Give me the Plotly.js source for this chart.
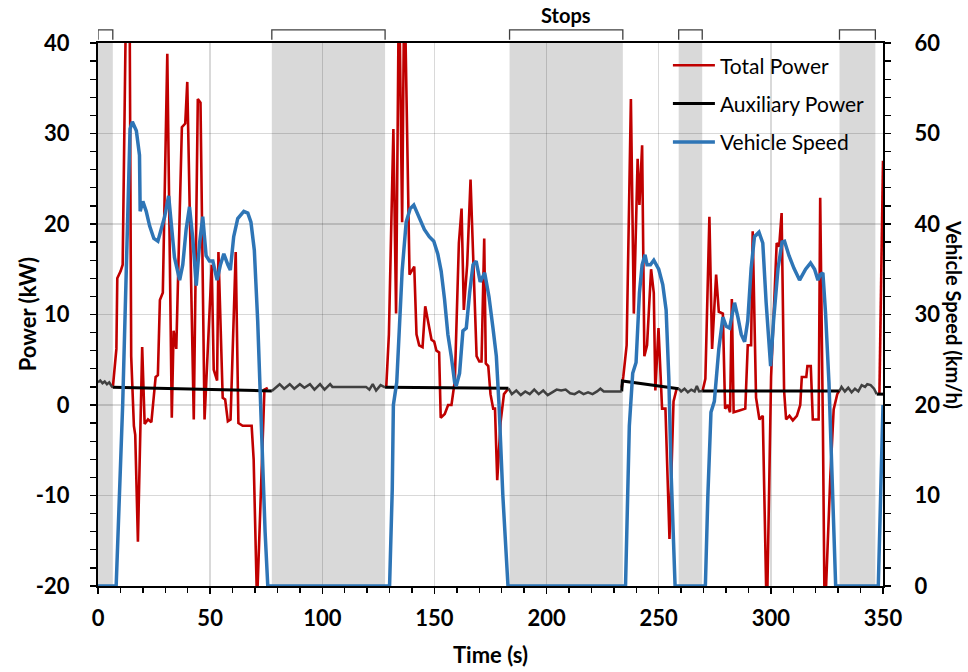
<!DOCTYPE html>
<html>
<head>
<meta charset="utf-8">
<script src="https://cdn.plot.ly/plotly-3.0.1.min.js"></script>
<style>html,body{margin:0;padding:0;background:#fff;}#chart{width:968px;height:672px;}</style>
</head>
<body>
<div id="chart"></div>
<script>
// ---- Total power (kW) ----
var tPower = [6.6, 8.2, 8.6, 10.1, 11.0, 12.5, 14.0, 14.8, 16.0, 16.6, 17.8, 19.7, 20.8, 22.3, 23.8, 25.7, 26.7, 27.6, 28.9, 30.9, 32.9, 33.7, 34.9, 37.4, 38.9, 39.8, 42.7, 44.5, 45.7, 47.5, 50.7, 51.6, 53.1, 53.7, 55.6, 56.7, 57.9, 59.1, 61.4, 62.6, 64.5, 68.5, 69.4, 70.9, 74.2, 75.7,
  null,
  128.5, 129.7, 131.7, 132.9, 134.2, 135.6, 136.6, 138.9, 141.0, 142.0, 143.2, 144.7, 145.9, 147.2, 148.7, 149.9, 150.9, 152.1, 152.8, 154.6, 156.1, 157.6, 159.1, 160.9, 162.1, 163.1, 164.6, 166.1, 167.3, 168.8, 170.0, 171.0, 172.2, 172.9, 174.0, 175.0, 176.2, 177.0, 178.0, 179.5, 181.0, 182.9,
  null,
  233.5, 234.2, 235.7, 237.6, 238.9, 240.6, 241.4, 242.6, 243.6, 244.8, 246.6, 247.8, 248.5, 249.9, 251.5, 253.0, 254.8, 256.6, 258.1,
  null,
  269.6, 270.8, 272.6, 273.8, 275.6, 276.8, 278.6, 279.6, 280.8, 281.8, 282.6, 283.4, 286.0, 288.6, 289.7, 291.2, 291.9, 293.4, 294.9, 296.4, 298.2, 300.1, 302.6, 303.7, 304.8, 305.9, 306.8, 308.3, 309.8, 311.6, 313.1, 313.8, 315.8, 316.3, 317.8, 318.7, 321.3, 322.0, 323.2, 324.0, 326.5, 328.0, 329.6, 330.5,
  null,
  348.4, 350];
var totalPower = [1.9, 6.2, 14.0, 14.8, 15.5, 45, 50, 5.4, -2.3, -3.3, -15.1, 6.4, -2.1, -1.6, -1.9, 3.1, 3.3, 11.6, 12.4, 38.8, -1.4, 8.2, 6.2, 30.7, 31.1, 35.7, -1.6, 33.8, 33.4, -1.6, 15.5, 3.9, 2.7, 16.9, 0.8, 0.6, -1.8, -1.6, 16.9, -2.0, -2.3, -2.3, -6.0, -22, 1.7, 1.9,
  null,
  1.9, 7.8, 30.5, 10.1, 48, 20.2, 48, 14.4, 15.3, 7.8, 6.6, 6.4, 10.9, 9.3, 7.2, 7.0, 6.0, 5.8, -1.4, -1.0, 0, 0, 2.7, 17.9, 21.7, 10.5, 15.5, 24.9, 15.1, 5.4, 4.8, 4.8, 18.4, 4.6, 4.3, 1.2, -0.4, -0.4, -8.3, -1.9, 1.2, 1.8,
  null,
  1.9, 3.1, 6.6, 33.8, 10.1, 27.2, 22.1, 28.7, 5.4, 6.6, 15.0, 12.4, 1.6, 8.5, -0.4, -0.4, -14.8, 0.4, 1.9,
  null,
  1.6, 2.9, 20.8, 6.2, 14.4, 10.3, 10.1, -0.4, 0, -0.8, 11.7, -0.8, -0.6, -0.4, 6.6, 6.6, 19.2, 0.8, -1.6, -1.2, -24, 3.1, 17.9, 17.5, 21.2, 1.6, -1.6, -1.2, -1.7, -1.2, 0, 3.1, 3.1, 4.3, 4.3, -1.6, -1.6, 22.9, -2.3, -24, -8.0, -0.5, 1.2, 1.6,
  null,
  1.2, 27.0];

// ---- Auxiliary power while driving (kW) ----
var tAuxDrive = [6.6, 77.5, null, 128.0, 183.0, null, 233.5, 233.8, 258.9, null, 269.4, 330.6, null, 347.2, 350];
var auxDrive  = [1.95, 1.55, null, 1.95, 1.85, null, 1.5, 2.65, 1.8, null, 1.55, 1.55, null, 1.2, 1.2];

// ---- Auxiliary power while stopped (kW) ----
var tAuxStop = [0, 1, 2, 3, 4, 5, 6, 6.6, null,
  77.5, 79, 81, 83, 85.5, 87.5, 90, 92, 94.5, 96.5, 99, 101, 103.5, 104.5, 119.5, 121, 122.5, 124, 126, 128, null,
  183, 184.5, 186.5, 188.5, 190.5, 192.5, 194.5, 196.5, 198.5, 200.5, 202.5, 204.5, 206.5, 208.5, 210.5, 212.5, 214.5, 216.5, 218.5, 220.5, 222.5, 224, 225.5, 233.5, null,
  258.9, 260, 261.5, 263, 264.5, 266, 267, 268, 269.4, null,
  330.6, 331.5, 333, 334.5, 336, 337.5, 339, 340.5, 342, 343, 344.5, 346, 347.2];
var auxStop = [2.5, 2.7, 2.4, 2.6, 2.3, 2.5, 2.1, 1.95, null,
  1.55, 1.9, 2.3, 1.8, 2.3, 1.8, 2.3, 1.9, 2.3, 1.7, 2.3, 1.7, 2.3, 2.0, 2.0, 1.7, 2.3, 1.6, 2.2, 1.95, null,
  1.85, 1.2, 1.6, 1.1, 1.5, 1.2, 1.7, 1.2, 1.6, 1.1, 1.4, 1.7, 1.6, 1.7, 1.3, 1.2, 1.5, 1.2, 1.4, 1.2, 1.5, 1.8, 1.5, 1.5, null,
  1.8, 1.5, 1.8, 1.4, 1.7, 1.5, 2.1, 1.5, 1.55, null,
  1.55, 2.0, 1.5, 1.9, 1.4, 1.8, 1.5, 2.2, 2.0, 2.3, 2.2, 1.8, 1.2];

// ---- Vehicle speed (km/h) ----
var tSpeed = [0, 8.1, 11.0, 13.0, 14.3, 15.3, 17.1, 18.5, 18.8, 20.0, 21.5, 23.0, 24.9, 26.7, 28.2, 29.7, 31.5, 32.6, 34.1, 36.4, 37.8, 39.3, 40.8, 42.3, 43.8, 45.3, 46.7, 48.2, 49.7, 51.2, 53.1, 54.6, 56.1, 57.9, 59.0, 60.5, 62.3, 65.0, 66.8, 68.2, 69.7, 71.2, 72.7, 74.5, 75.7,
  130.0, 131.2, 131.7, 133.2, 135.6, 137.4, 139.2, 140.8, 142.5, 145.5, 147.7, 149.7, 151.5, 153.0, 154.5, 156.0, 157.5, 159.0, 159.7, 161.2, 162.7, 164.2, 165.7, 167.2, 168.6, 170.4, 172.4, 174.3, 176.1, 177.6, 178.8, 180.5, 182.8,
  235.2, 236.9, 238.4, 239.9, 241.4, 242.6, 243.9, 244.8, 246.3, 247.8, 250.0, 251.8, 253.3, 254.5, 255.6, 257.3,
  270.8, 271.9, 273.3, 274.8, 276.8, 278.6, 280.1, 281.6, 283.8, 285.3, 286.8, 288.3, 289.7, 291.2, 292.7, 294.7, 296.4, 297.9, 299.9, 301.2, 303.2, 305.0, 306.1, 308.1, 310.3, 312.8, 315.5, 317.7, 319.5, 321.0, 322.0, 323.2, 324.4, 325.9, 327.4, 328.9,
  347.9, 350];
var vehicleSpeed = [0, 0, 20, 40, 50.5, 51.3, 50.3, 47.6, 41.4, 42.5, 41.4, 39.8, 38.4, 38.1, 39.4, 40.8, 43.1, 39.8, 36.3, 33.8, 35.5, 39.4, 41.9, 38.3, 33.2, 37.9, 40.8, 36.5, 35.9, 35.9, 33.8, 35.5, 36.7, 35.5, 34.9, 38.6, 40.6, 41.4, 41.2, 40.2, 37.1, 29.3, 17.7, 6.0, 0,
  0, 10.7, 20, 22.5, 34.8, 40.2, 41.7, 42.1, 41.2, 39.4, 38.6, 38.1, 36.7, 34.8, 31.7, 27.8, 25.4, 22.5, 22.1, 23.5, 28.2, 28.5, 32.4, 35.5, 35.9, 33.6, 34.6, 32.0, 28.5, 25.4, 20.0, 10.0, 0,
  0, 17.7, 23.5, 24.7, 32.4, 35.5, 36.6, 35.5, 35.5, 36.0, 35.0, 33.3, 30.5, 23.0, 12.0, 0,
  0, 9.9, 19.2, 20.4, 26.2, 29.7, 28.7, 28.5, 31.3, 29.7, 27.8, 27.0, 29.3, 35.1, 38.6, 39.1, 37.9, 31.3, 24.3, 29.3, 35.1, 38.0, 38.1, 36.5, 35.1, 33.8, 35.0, 35.7, 35.0, 33.8, 34.4, 34.6, 30.1, 22.5, 9.9, 0,
  0, 20];

// ---- Stop periods (s) ----
var stopStart = [0, 77.5, 183.5, 258.9, 330.6];
var stopEnd   = [6.6, 128.0, 234.0, 269.4, 346.6];
var stopLabel = "Stops";

// ---- Tick labels ----
var powerTicks = [-20, -10, 0, 10, 20, 30, 40];
var powerTickText = ["-20", "-10", "0", "10", "20", "30", "40"];

var FONT = "Lato, 'Open Sans', sans-serif";

var shapes = [];
for (var i = 0; i < stopStart.length; i++) {
  shapes.push({type: 'rect', xref: 'x', yref: 'paper', x0: stopStart[i], x1: stopEnd[i], y0: 0, y1: 1,
    fillcolor: '#d9d9d9', line: {width: 0}, layer: 'below'});
  shapes.push({type: 'path', xref: 'x', yref: 'paper', layer: 'above',
    path: 'M' + stopStart[i] + ',1.006 L' + stopStart[i] + ',1.024 L' + stopEnd[i] + ',1.024 L' + stopEnd[i] + ',1.006',
    line: {color: '#404040', width: 1.3}});
}

var traces = [
  {x: tPower, y: totalPower, name: 'Total Power', type: 'scatter', mode: 'lines',
   line: {color: '#c00000', width: 2.6}, legendgroup: 'a', yaxis: 'y'},
  {x: tAuxDrive, y: auxDrive, name: 'Auxiliary Power', type: 'scatter', mode: 'lines',
   line: {color: '#000000', width: 3}, legendgroup: 'b', yaxis: 'y'},
  {x: tAuxStop, y: auxStop, name: 'Auxiliary Power (stopped)', type: 'scatter', mode: 'lines',
   line: {color: '#404040', width: 2.5}, showlegend: false, legendgroup: 'b', yaxis: 'y'},
  {x: tSpeed, y: vehicleSpeed, name: 'Vehicle Speed', type: 'scatter', mode: 'lines',
   line: {color: '#2e75b6', width: 3.5}, legendgroup: 'c', yaxis: 'y2'}
];

var tickFont = {family: FONT, size: 22, color: '#000', weight: 700};
var titleFont = {family: FONT, size: 22, color: '#000', weight: 700};

var layout = {
  width: 968, height: 672,
  margin: {l: 98, r: 85, t: 43, b: 86, pad: 0},
  paper_bgcolor: '#fff', plot_bgcolor: 'rgba(0,0,0,0)',
  showlegend: true,
  legend: {x: 0.726, y: 0.996, xanchor: 'left', yanchor: 'top', bgcolor: 'rgba(0,0,0,0)', itemwidth: 42,
    font: {family: FONT, size: 21, color: '#000'}, traceorder: 'grouped', tracegroupgap: 8},
  xaxis: {range: [0, 350], dtick: 50, tick0: 0, showgrid: true, gridcolor: 'rgba(0,0,0,0.15)', gridwidth: 1.5,
    zeroline: false, showline: true, linecolor: '#000', linewidth: 2, mirror: true,
    ticks: 'outside', ticklen: 6, tickwidth: 1.3, tickcolor: '#000', ticklabelstandoff: 6,
    minor: {dtick: 10, ticks: 'outside', ticklen: 5, tickwidth: 1.3, tickcolor: '#000', showgrid: false},
    tickfont: tickFont, title: {text: 'Time (s)', font: titleFont, standoff: 17}},
  yaxis: {range: [-20, 40], tickmode: 'array', tickvals: powerTicks, ticktext: powerTickText,
    showgrid: true, gridcolor: 'rgba(0,0,0,0.15)', gridwidth: 1.5,
    zeroline: false, showline: true, linecolor: '#000', linewidth: 2,
    ticks: 'outside', ticklen: 6, tickwidth: 1.3, tickcolor: '#000', ticklabelstandoff: 16,
    minor: {dtick: 2, tick0: 0, ticks: 'outside', ticklen: 6, tickwidth: 1.3, tickcolor: '#000', showgrid: false},
    tickfont: tickFont},
  yaxis2: {range: [0, 60], dtick: 10, tick0: 0, overlaying: 'y', side: 'right', showgrid: false,
    zeroline: false, showline: true, linecolor: '#000', linewidth: 2,
    ticks: 'outside', ticklen: 6, tickwidth: 1.3, tickcolor: '#000', ticklabelstandoff: 19,
    minor: {dtick: 2, ticks: 'outside', ticklen: 6, tickwidth: 1.3, tickcolor: '#000', showgrid: false},
    tickfont: tickFont},
  shapes: shapes,
  annotations: [
    {text: stopLabel, xref: 'x', yref: 'paper', x: (stopStart[2] + stopEnd[2]) / 2, y: 1.052,
     showarrow: false, xanchor: 'center', yanchor: 'middle', font: {family: FONT, size: 20, color: '#000', weight: 700}},
    {text: 'Power (kW)', xref: 'paper', yref: 'paper', x: -0.0895, y: 0.5, textangle: -90,
     showarrow: false, xanchor: 'center', yanchor: 'middle', font: titleFont},
    {text: 'Vehicle Speed (km/h)', xref: 'paper', yref: 'paper', x: 1.091, y: 0.5, textangle: 90,
     showarrow: false, xanchor: 'center', yanchor: 'middle', font: {family: FONT, size: 20, color: '#000', weight: 700}}
  ]
};

Plotly.newPlot('chart', traces, layout, {displayModeBar: false, staticPlot: true});
</script>
</body>
</html>
